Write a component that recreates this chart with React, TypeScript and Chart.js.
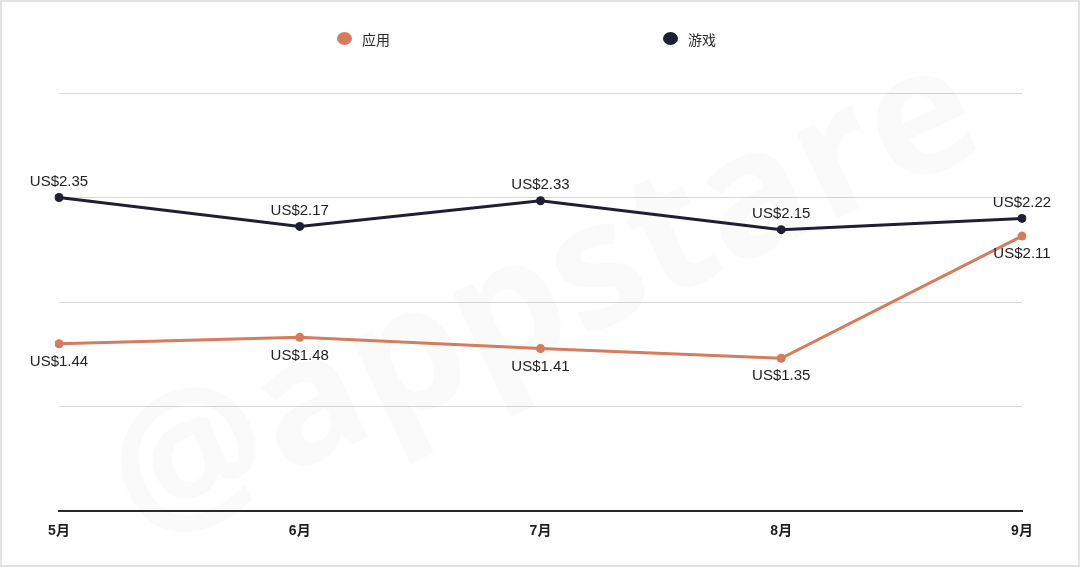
import React, { useEffect, useRef } from "react";
import { Chart, registerables } from "chart.js";

Chart.register(...registerables);

const months = ["5月", "6月", "7月", "8月", "9月"];
const appValues = [1.44, 1.48, 1.41, 1.35, 2.11];
const gameValues = [2.35, 2.17, 2.33, 2.15, 2.22];
const seriesNames = ["应用", "游戏"];
const seriesColors = ["#d67b5b", "#1f1f33"];
const yGridValues = [0.4, 1.05, 1.7, 2.35, 3.0];
const valuePrefix = "US$";
const watermarkText = "@appstare";

const framePlugin = {
  id: "frame",
  beforeDraw(chart: any) {
    const { ctx, width, height } = chart;
    ctx.save();
    ctx.fillStyle = "#ffffff";
    ctx.fillRect(0, 0, width, height);
    ctx.strokeStyle = "#e3e3e3";
    ctx.lineWidth = 2;
    ctx.strokeRect(1, 1, width - 2, height - 2);
    ctx.restore();
  },
};

const watermarkPlugin = {
  id: "watermark",
  beforeDatasetsDraw(chart: any) {
    const { ctx } = chart;
    ctx.save();
    ctx.translate(545, 300);
    ctx.rotate((-25 * Math.PI) / 180);
    ctx.font = 'bold 175px "Open Sans", "Liberation Sans", sans-serif';
    ctx.fillStyle = "rgba(0,0,0,0.02)";
    ctx.textAlign = "center";
    ctx.textBaseline = "middle";
    ctx.fillText(watermarkText, 0, 0);
    ctx.restore();
  },
};

const legendPlugin = {
  id: "customLegend",
  afterDraw(chart: any) {
    const { ctx } = chart;
    const starts = [337, 663];
    ctx.save();
    chart.data.datasets.forEach((ds: any, i: number) => {
      const x = starts[i];
      const y = 38.5;
      ctx.beginPath();
      ctx.ellipse(x + 7.5, y, 7.5, 6.5, 0, 0, Math.PI * 2);
      ctx.fillStyle = ds.borderColor;
      ctx.fill();
      ctx.font = '14px "Noto Sans CJK SC", "Liberation Sans", sans-serif';
      ctx.fillStyle = "#2a2a2a";
      ctx.textAlign = "left";
      ctx.textBaseline = "middle";
      ctx.fillText(ds.label, x + 25, y + 1);
    });
    ctx.restore();
  },
};

const dataLabelPlugin = {
  id: "dataLabels",
  afterDatasetsDraw(chart: any) {
    const { ctx } = chart;
    ctx.save();
    ctx.font = '15px "Liberation Sans", Arial, sans-serif';
    ctx.fillStyle = "#222222";
    ctx.textAlign = "center";
    ctx.textBaseline = "middle";
    chart.data.datasets.forEach((ds: any, i: number) => {
      const meta = chart.getDatasetMeta(i);
      const offset = i === 0 ? 18 : -16;
      meta.data.forEach((pt: any, j: number) => {
        const v = ds.data[j] as number;
        ctx.fillText(valuePrefix + v.toFixed(2), pt.x, pt.y + offset);
      });
    });
    ctx.restore();
  },
};

export default function App() {
  const ref = useRef<HTMLCanvasElement | null>(null);

  useEffect(() => {
    if (!ref.current) return;
    const chart = new Chart(ref.current, {
      type: "line",
      data: {
        labels: months,
        datasets: [
          {
            label: seriesNames[0],
            data: appValues,
            borderColor: seriesColors[0],
            backgroundColor: seriesColors[0],
            borderWidth: 3,
            pointRadius: 4.5,
            pointBorderWidth: 0,
            pointBackgroundColor: seriesColors[0],
            tension: 0,
          },
          {
            label: seriesNames[1],
            data: gameValues,
            borderColor: seriesColors[1],
            backgroundColor: seriesColors[1],
            borderWidth: 3,
            pointRadius: 4.5,
            pointBorderWidth: 0,
            pointBackgroundColor: seriesColors[1],
            tension: 0,
          },
        ],
      },
      options: {
        animation: false,
        responsive: false,
        devicePixelRatio: 1,
        layout: { padding: { left: 59, right: 58, top: 93, bottom: 0 } },
        plugins: {
          legend: { display: false },
          tooltip: { enabled: false },
        },
        scales: {
          x: {
            type: "category",
            offset: false,
            grid: { display: false },
            border: { display: true, color: "#2a2a2a", width: 2 },
            ticks: {
              padding: 4,
              autoSkip: false,
              maxRotation: 0,
              color: "#1e1e1e",
              font: { size: 14, weight: "bold", family: '"Liberation Sans", "Noto Sans CJK SC", sans-serif' },
            },
            afterFit(scale: any) {
              scale.height = 56;
            },
          },
          y: {
            type: "linear",
            min: yGridValues[0],
            max: yGridValues[yGridValues.length - 1],
            border: { display: false },
            grid: { color: "#d9d9d9", lineWidth: 1, drawTicks: false },
            ticks: { display: false },
            afterBuildTicks(scale: any) {
              scale.ticks = yGridValues.map((v) => ({ value: v }));
            },
            afterFit(scale: any) {
              scale.width = 0;
            },
          },
        },
      },
      plugins: [framePlugin, watermarkPlugin, legendPlugin, dataLabelPlugin],
    } as any);
    return () => chart.destroy();
  }, []);

  return (
    <div style={{ position: "absolute", left: 0, top: 0, width: 1080, height: 567, background: "#fff" }}>
      <canvas ref={ref} width={1080} height={567} style={{ display: "block", width: 1080, height: 567 }} />
    </div>
  );
}
